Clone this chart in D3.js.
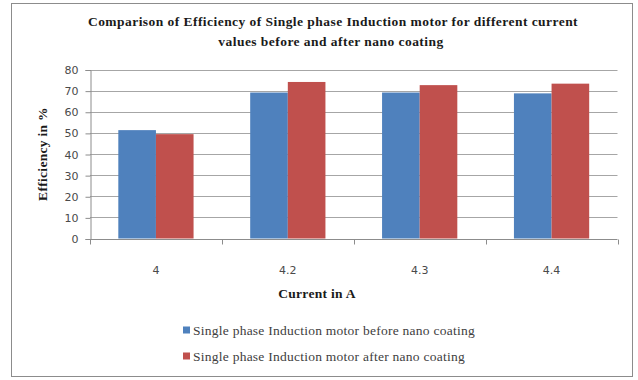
<!DOCTYPE html>
<html>
<head>
<meta charset="utf-8">
<script src="https://cdn.jsdelivr.net/npm/d3@7"></script>
<style>
  html, body { margin: 0; padding: 0; background: #fff; }
  svg { display: block; }
  .serif { font-family: "Liberation Serif", "DejaVu Serif", serif; }
  .sans { font-family: "DejaVu Sans", sans-serif; }
</style>
</head>
<body>
<svg id="chart" width="638" height="380"></svg>
<script>
// Efficiency (%) of a single phase induction motor at several currents
const categories = ["4", "4.2", "4.3", "4.4"];
const seriesNames = [
  "Single phase Induction motor before nano coating",
  "Single phase Induction motor after nano coating"
];
const beforeCoating = [51.3, 69.1, 69.1, 68.7];
const afterCoating = [49.4, 74.1, 72.6, 73.3];
const yTicks = [0, 10, 20, 30, 40, 50, 60, 70, 80];
const colors = ["#4f81bd", "#c0504d"];

const svg = d3.select("#chart");

// outer frame
svg.append("rect")
  .attr("x", 11.5).attr("y", 3.5)
  .attr("width", 621).attr("height", 373)
  .attr("fill", "#fff").attr("stroke", "#8c8c8c").attr("stroke-width", 1);

const plot = { left: 90, right: 617.5, top: 69.5, bottom: 238.5 };

const x0 = d3.scaleBand().domain(categories)
  .range([plot.left, plot.right]).paddingInner(0).paddingOuter(0);
const x1 = d3.scaleBand().domain([0, 1])
  .range([0, x0.bandwidth()]).paddingInner(0).paddingOuter(0.7525);
const y = d3.scaleLinear().domain([0, 80]).range([plot.bottom, plot.top]);

// horizontal gridlines
svg.append("g").selectAll("line").data(yTicks.filter(d => d > 0)).join("line")
  .attr("x1", plot.left).attr("x2", plot.right)
  .attr("y1", d => Math.round(y(d)) + 0.5).attr("y2", d => Math.round(y(d)) + 0.5)
  .attr("stroke", "#a6a6a6").attr("stroke-width", 1);

// bars
const rows = categories.map((c, i) => ({ c, vals: [beforeCoating[i], afterCoating[i]] }));
const groups = svg.append("g").selectAll("g").data(rows).join("g")
  .attr("transform", d => `translate(${x0(d.c)},0)`);
groups.selectAll("rect").data(d => d.vals.map((v, k) => ({ v, k }))).join("rect")
  .attr("x", d => x1(d.k))
  .attr("width", x1.bandwidth())
  .attr("y", d => y(d.v))
  .attr("height", d => y(0) - y(d.v))
  .attr("fill", d => colors[d.k]);

// y axis
const yAxis = d3.axisLeft(y).tickValues(yTicks).tickSize(5).tickPadding(7);
const gy = svg.append("g").attr("transform", `translate(${plot.left + 0.5},0.5)`).call(yAxis);
gy.attr("font-family", null).attr("font-size", null);
gy.select(".domain").attr("stroke", "#8c8c8c");
gy.selectAll(".tick line").attr("stroke", "#8c8c8c");
gy.selectAll(".tick text")
  .attr("class", "sans")
  .attr("fill", "#4a4a4a")
  .style("font-size", "11px");

// x axis: baseline with ticks at category boundaries
const gx = svg.append("g").attr("transform", `translate(0,${Math.round(plot.bottom) + 0.5})`);
gx.append("line").attr("x1", plot.left).attr("x2", plot.right)
  .attr("stroke", "#8c8c8c");
const bounds = categories.map(c => x0(c)).concat([plot.right]);
gx.selectAll("line.tk").data(bounds).join("line").attr("class", "tk")
  .attr("x1", d => Math.round(d) + 0.5).attr("x2", d => Math.round(d) + 0.5)
  .attr("y1", 0).attr("y2", 5).attr("stroke", "#8c8c8c");
gx.selectAll("text").data(categories).join("text")
  .attr("class", "sans")
  .attr("x", d => x0(d) + x0.bandwidth() / 2).attr("y", 34)
  .attr("text-anchor", "middle")
  .attr("fill", "#4a4a4a")
  .style("font-size", "11px")
  .text(d => d);

// title
const title = svg.append("text")
  .attr("class", "serif")
  .attr("text-anchor", "middle")
  .style("font-size", "13.5px").style("font-weight", "bold")
  .style("letter-spacing", "0.45px").attr("fill", "#1a1a1a");
title.append("tspan").attr("x", 333).attr("y", 26)
  .text("Comparison of Efficiency of Single phase Induction motor for different current");
title.append("tspan").attr("x", 331).attr("y", 46)
  .text("values  before and after nano coating");

// axis titles
svg.append("text")
  .attr("class", "serif")
  .attr("transform", `translate(47,${(plot.top + plot.bottom) / 2}) rotate(-90)`)
  .attr("text-anchor", "middle")
  .style("font-size", "13.5px").style("font-weight", "bold")
  .style("letter-spacing", "0.3px").attr("fill", "#1a1a1a")
  .text("Efficiency in %");

svg.append("text")
  .attr("class", "serif")
  .attr("x", 317).attr("y", 298)
  .attr("text-anchor", "middle")
  .style("font-size", "13.5px").style("font-weight", "bold")
  .style("letter-spacing", "0.3px").attr("fill", "#1a1a1a")
  .text("Current in A");

// legend
const legend = svg.append("g").selectAll("g").data(seriesNames).join("g")
  .attr("transform", (d, i) => `translate(183,${330 + i * 26})`);
legend.append("rect")
  .attr("x", 0).attr("y", -3.5).attr("width", 7).attr("height", 7)
  .attr("fill", (d, i) => colors[i]);
legend.append("text")
  .attr("class", "serif")
  .attr("x", 10).attr("y", 4.5)
  .style("font-size", "13.5px").style("letter-spacing", "0.25px")
  .attr("fill", "#404040")
  .text(d => d);
</script>
</body>
</html>
